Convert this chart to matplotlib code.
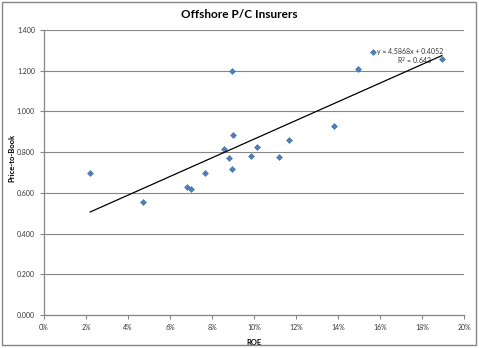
import matplotlib
matplotlib.use("Agg")
import matplotlib.pyplot as plt
from matplotlib.patches import Rectangle
from matplotlib.ticker import FuncFormatter, MultipleLocator

plt.rcParams['font.family'] = ['Lato', 'DejaVu Sans']

# ROE vs price-to-book for offshore P/C insurers
roe = [0.022, 0.047, 0.068, 0.070, 0.0767, 0.0856, 0.0879, 0.0897, 0.0901,
       0.0895, 0.0984, 0.1014, 0.1117, 0.1165, 0.1381, 0.1495, 0.1565, 0.1895]
ptb = [0.700, 0.556, 0.630, 0.619, 0.697, 0.814, 0.770, 0.717, 0.883,
       1.200, 0.781, 0.825, 0.775, 0.861, 0.930, 1.210, 1.293, 1.257]

slope = 4.5868
intercept = 0.4052
r2 = 0.643

fig = plt.figure(figsize=(4.79, 3.48), dpi=100)
ax = fig.add_axes([44/479, 33/348, 420/479, 285/348])

# chart border
fig.patches.append(Rectangle((2/479, 3/348), 474/479, 343/348, transform=fig.transFigure,
                             fill=False, edgecolor='#868686', linewidth=1.0))

ax.scatter(roe, ptb, marker='D', s=9, color='#4F81BD', edgecolor='#3C6A9E',
           linewidths=0.4, zorder=3)

xs = [min(roe), max(roe)]
ax.plot(xs, [slope * v + intercept for v in xs], color='black', linewidth=0.9, zorder=4)

ax.text(0.1565 + 0.0020, 1.293, 'y = %.4fx + %.4f' % (slope, intercept),
        fontsize=5, va='center', ha='left', color='#333333')
ax.text(0.1765, 1.245, 'R$^2$ = %.3f' % r2, fontsize=5, va='center', ha='center',
        color='#333333')

ax.set_xlim(0, 0.20)
ax.set_ylim(0, 1.4)
ax.xaxis.set_major_locator(MultipleLocator(0.02))
ax.yaxis.set_major_locator(MultipleLocator(0.2))
ax.xaxis.set_major_formatter(FuncFormatter(lambda v, p: '%d%%' % round(v * 100)))
ax.yaxis.set_major_formatter(FuncFormatter(lambda v, p: '%.3f' % v))

ax.grid(axis='y', color='#868686', linewidth=0.8)
ax.set_axisbelow(True)
for s in ['top', 'right']:
    ax.spines[s].set_visible(False)
for s in ['left', 'bottom']:
    ax.spines[s].set_color('#868686')
    ax.spines[s].set_linewidth(0.9)
ax.tick_params(axis='both', labelsize=5, color='#868686', length=3, width=0.8,
               labelcolor='#333333')

ax.set_xlabel('ROE', fontsize=5.5, fontweight='bold', labelpad=6)
ax.set_ylabel('Price-to-Book', fontsize=5.5, fontweight='bold', labelpad=0)
ax.yaxis.set_label_coords(-0.067, 0.55)
fig.text(0.5, 1 - 15/348, 'Offshore P/C Insurers', ha='center', va='center',
         fontsize=8.5, fontweight='bold')

fig.savefig('out.png', dpi=100)
